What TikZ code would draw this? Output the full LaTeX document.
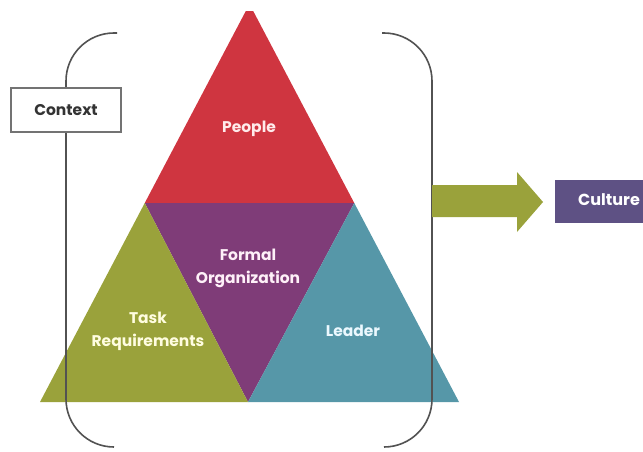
\documentclass[tikz,border=0pt]{standalone}
\usepackage{fontspec}
\setmainfont{Poppins}
\begin{document}
\begin{tikzpicture}[x=1pt,y=-1pt,
  bracket/.style={draw=black!68, line width=1.6pt, rounded corners=48pt},
  lbl/.style={font=\bfseries\fontsize{15.5}{23}\selectfont, align=center, inner sep=0pt},
  ctxbox/.style={draw=black!55, line width=1.3pt, fill=white, minimum width=110pt, minimum height=44pt, inner sep=0pt, font=\bfseries\fontsize{15.5}{18}\selectfont, text=black!80},
  culturebox/.style={fill=culture, minimum width=100pt, minimum height=43pt, inner sep=0pt}
]
\definecolor{peoplered}{HTML}{CF3540}
\definecolor{orgpurple}{HTML}{7F3C78}
\definecolor{taskolive}{HTML}{9AA23B}
\definecolor{leaderteal}{HTML}{5697A8}
\definecolor{culture}{HTML}{5E5184}
\useasboundingbox (0,0) rectangle (643,452);
\clip (0,0) rectangle (643,452);

% pyramid corners
\coordinate (T) at (249.5,4);
\coordinate (L) at (40,402);
\coordinate (R) at (459,402);
\coordinate (B) at (248,402);
\coordinate (ML) at (144.75,203);
\coordinate (MR) at (354.25,203);

\begin{scope}
  \clip (0,12) rectangle (643,452);
  \fill[peoplered] (T) -- (ML) -- (MR) -- cycle;
\end{scope}
\fill[orgpurple] (ML) -- (MR) -- (B) -- cycle;
\fill[taskolive] (ML) -- (L) -- (B) -- cycle;
\fill[leaderteal] (MR) -- (B) -- (R) -- cycle;

\node[lbl, text=red!8] (people) at (249,129) {People};
\node[lbl, text=magenta!6] (org) at (248,268) {Formal\\Organization};
\node[lbl, text=yellow!12] (task) at (148,331) {Task\\Requirements};
\node[lbl, text=cyan!8] (leader) at (353,331) {Leader};

% context brackets
\draw[bracket] (117,33) -- (66,33) -- (66,447) -- (114,447);
\draw[bracket] (382,33) -- (432,33) -- (432,447) -- (384,447);

\node[ctxbox] (context) at (66,110) {Context};

% outcome arrow
\fill[taskolive] (432,185) -- (517,185) -- (517,172) -- (543,202) -- (517,232) -- (517,217) -- (432,217) -- cycle;

\node[culturebox] (culturebg) at (605,201.5) {};
\node[lbl, anchor=west, text=white, font=\bfseries\fontsize{16}{18}\selectfont] (culture) at (578,200) {Culture};
\end{tikzpicture}
\end{document}
